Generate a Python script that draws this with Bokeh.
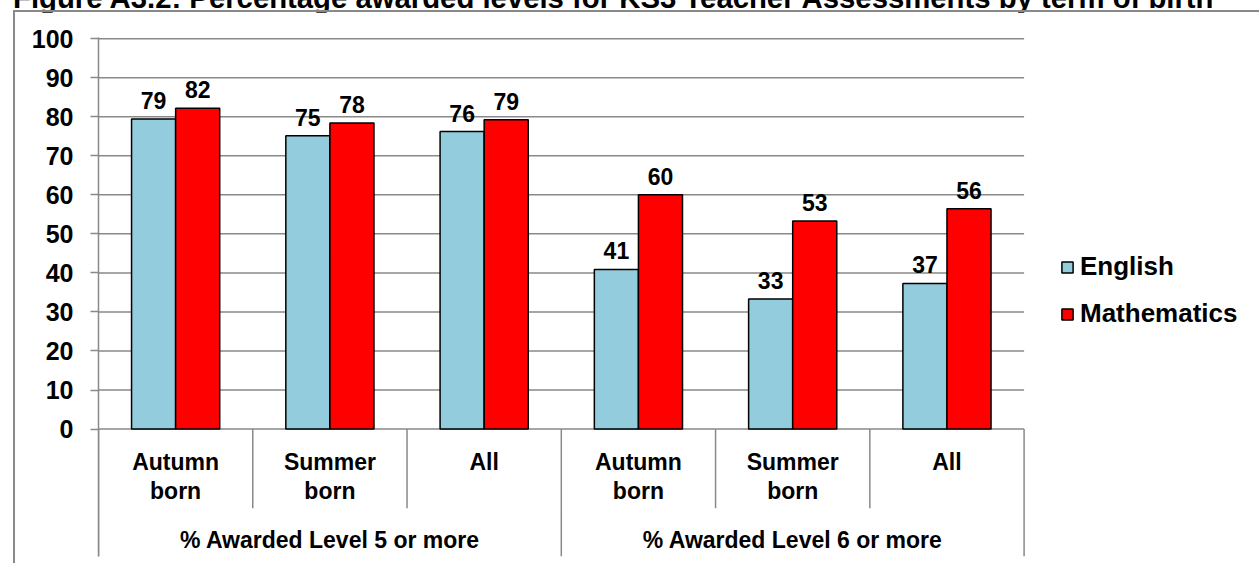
from bokeh.plotting import figure
from bokeh.layouts import column
from bokeh.models import (Range1d, FixedTicker, Legend, LegendItem, ColumnDataSource, Div)
from bokeh.core.properties import value
from bokeh.embed import file_html
from bokeh.resources import INLINE

# ---------------- data ----------------
title_text = "Figure A3.2: Percentage awarded levels for KS3 Teacher Assessments by term of birth"
groups = ["% Awarded Level 5 or more", "% Awarded Level 6 or more"]
subcats = ["Autumn\nborn", "Summer\nborn", "All"]
series = ["English", "Mathematics"]
english = [79.4, 75.1, 76.2, 40.9, 33.3, 37.3]
maths = [82.2, 78.4, 79.2, 60.0, 53.3, 56.4]
y_ticks = [0, 10, 20, 30, 40, 50, 60, 70, 80, 90, 100]
colors = ["#93CDDD", "#FF0000"]

FONT = "Liberation Sans"
GRID = "#898989"

n = len(english)
per_group = len(subcats)
centers = [i + 0.5 for i in range(n)]
bw = 2.0 / 7.0
unit_px = 154.0            # width of one category slot in pixels
frame_w = 1161             # plotting area incl. the legend zone on the right

src = ColumnDataSource(dict(
    xe=[c - bw / 2 for c in centers],
    xm=[c + bw / 2 for c in centers],
    eng=english,
    mat=maths,
    el=[str(round(v)) for v in english],
    ml=[str(round(v)) for v in maths],
))

p = figure(width=1244, height=553, frame_width=frame_w, frame_height=517,
           x_range=Range1d(0, frame_w / unit_px), y_range=Range1d(-32.65, 100.3),
           output_backend="svg", toolbar_location=None, x_axis_location=None,
           min_border_left=83, min_border_right=0, min_border_top=25, min_border_bottom=11)
p.styles = {"margin-left": "13px", "border-left": f"2px solid {GRID}",
            "border-top": f"2px solid {GRID}"}
p.outline_line_color = None
p.background_fill_color = "white"
p.border_fill_color = "white"

# y axis (ticks + labels); horizontal grid lines only across the category area
p.xgrid.visible = False
p.ygrid.visible = False
ax = p.yaxis[0]
ax.ticker = FixedTicker(ticks=y_ticks)
ax.minor_tick_line_color = None
ax.major_tick_out = 8
ax.major_tick_in = 0
ax.major_tick_line_color = GRID
ax.major_tick_line_width = 1.5
ax.axis_line_color = GRID
ax.axis_line_width = 1.5
ax.major_label_text_font = FONT
ax.major_label_text_font_size = "25px"
ax.major_label_text_font_style = "bold"
ax.major_label_text_color = "black"
ax.major_label_standoff = 17

p.segment(x0=[0] * len(y_ticks), y0=y_ticks, x1=[n] * len(y_ticks), y1=y_ticks,
          line_color=GRID, line_width=1.5)

# category separators
short_x = [i for i in range(1, n) if i % per_group != 0]
long_x = [i for i in range(0, n + 1) if i % per_group == 0]
p.segment(x0=short_x, y0=[0] * len(short_x), x1=short_x, y1=[-20.3] * len(short_x),
          line_color=GRID, line_width=1.5)
p.segment(x0=long_x, y0=[0] * len(long_x), x1=long_x, y1=[-32.65] * len(long_x),
          line_color=GRID, line_width=1.5)

# bars
r1 = p.vbar(x="xe", top="eng", width=bw, bottom=0, source=src,
            fill_color=colors[0], line_color="black", line_width=1.5)
r2 = p.vbar(x="xm", top="mat", width=bw, bottom=0, source=src,
            fill_color=colors[1], line_color="black", line_width=1.5)

# data labels
for xcol, ycol, tcol in (("xe", "eng", "el"), ("xm", "mat", "ml")):
    p.text(x=xcol, y=ycol, text=tcol, source=src, text_align="center",
           text_baseline="bottom", y_offset=-10,
           text_font=value(FONT), text_font_size="23px", text_font_style="bold",
           text_color="black")

# category labels
p.text(x=centers, y=[-5.0] * n, text=subcats * (n // per_group),
       text_align="center", text_baseline="top", text_line_height=1.12,
       text_font=value(FONT), text_font_size="23px", text_font_style="bold",
       text_color="black")
gcenters = [g * per_group + per_group / 2 for g in range(len(groups))]
p.text(x=gcenters, y=[-28.3] * len(groups), text=groups,
       text_align="center", text_baseline="middle",
       text_font=value(FONT), text_font_size="23px", text_font_style="bold",
       text_color="black")

# legend (right of the category area)
legend = Legend(items=[LegendItem(label=series[0], renderers=[r1]),
                       LegendItem(label=series[1], renderers=[r2])],
                location=(962, 227), orientation="vertical",
                border_line_color=None, background_fill_alpha=0,
                label_text_font=FONT, label_text_font_size="26px",
                label_text_font_style="bold", label_text_color="black",
                glyph_width=14, glyph_height=14, label_standoff=6,
                spacing=16, margin=0, padding=10, label_height=30)
p.add_layout(legend)

# caption above the chart box (its upper part lies outside the page, as in the source)
cap = Div(text=title_text, width=1244, height=17,
          styles={"font-family": FONT, "font-size": "29.3px", "font-weight": "bold",
                  "line-height": "20px", "white-space": "nowrap", "color": "black",
                  "padding-left": "8px"})

layout = column(cap, p, spacing=0,
                styles={"margin-top": "-17px", "margin-bottom": "-20px"})

open("out.html", "w").write(file_html(layout, INLINE))
